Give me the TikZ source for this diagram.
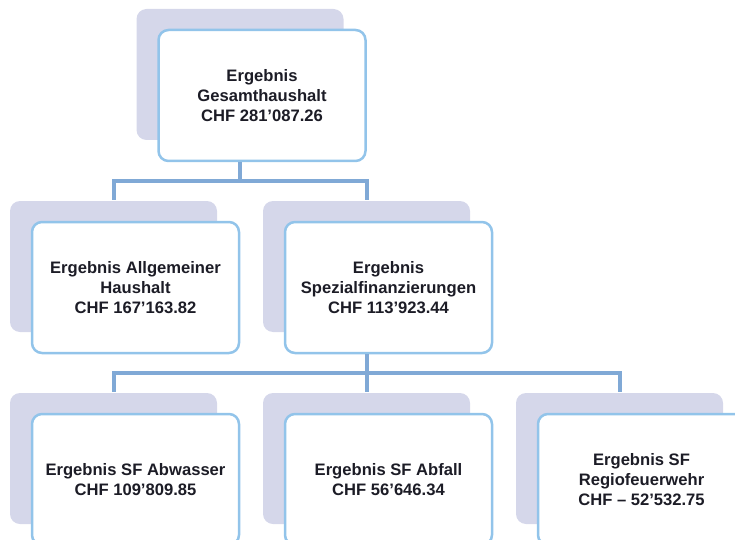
\documentclass[tikz,border=0pt]{standalone}
\usepackage{fontspec}
\setmainfont{Liberation Sans}
\usepackage{tikz}
\usetikzlibrary{shadows}
\definecolor{boxblue}{HTML}{92C4EA}
\definecolor{linkblue}{HTML}{80A9D6}
\definecolor{shadowgrey}{HTML}{D5D7EA}
\definecolor{inkdark}{HTML}{1C1C26}

\begin{document}
\begin{tikzpicture}[
    x=1pt, y=1pt,
    level distance=192pt,
    level 1/.style={sibling distance=253pt},
    level 2/.style={sibling distance=253pt},
    every node/.style={rectangle, rounded corners=10pt, draw=boxblue, line width=2.5pt, fill=white,
        minimum width=207pt, minimum height=131pt, align=center, text=inkdark,
        font=\fontsize{16.6}{20}\selectfont\bfseries,
        general shadow={fill=shadowgrey, shadow xshift=-22pt, shadow yshift=21pt}},
    edge from parent/.style={draw=linkblue, line width=4pt},
    edge from parent path={([xshift=-22pt]\tikzparentnode.south) -- ++(0,-19pt)
        -| ([xshift=-22pt, yshift=21pt]\tikzchildnode.north)}
]
\path[use as bounding box, clip] (0,0) rectangle (735,539);

% Gesamthaushalt
\node (gesamt) at (262, 443.5) {Ergebnis\\Gesamthaushalt\\CHF 281’087.26}
    child {node (allg) {Ergebnis Allgemeiner\\Haushalt\\CHF 167’163.82}}
    child {node (spez) {Ergebnis\\Spezialfinanzierungen\\CHF 113’923.44}
        child {node (abwasser) {Ergebnis SF Abwasser\\CHF 109’809.85}}
        child {node (abfall) {Ergebnis SF Abfall\\CHF 56’646.34}}
        child {node (feuerwehr) {Ergebnis SF\\Regiofeuerwehr\\CHF – 52’532.75}}
    };
\end{tikzpicture}
\end{document}
